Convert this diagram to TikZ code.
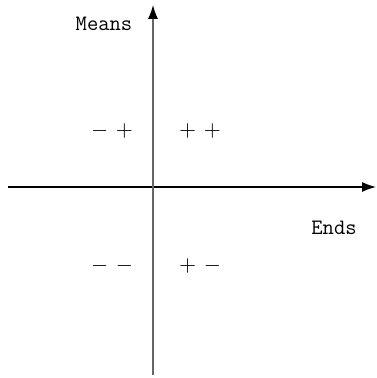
\documentclass[tikz,border=0pt]{standalone}
\usepackage{graphicx}
\usetikzlibrary{arrows.meta}
\tikzset{
  axislabel/.style={font=\ttfamily\fontsize{22}{26}\selectfont},
  signs/.style={font=\normalsize},
}
\newcommand{\sgn}[2]{\scalebox{2.2}{$#1$\hspace{3.5pt}$#2$}}
\begin{document}
\begin{tikzpicture}[x=1pt,y=1pt]
\useasboundingbox (0,0) rectangle (376,378);
\coordinate (xl) at (8,191);
\coordinate (xr) at (376,191);
\coordinate (yb) at (153,3);
\coordinate (yt) at (153,373);
\draw[line width=1.2pt,-{Latex[length=14pt,width=10pt]}] (xl) -- (xr);
\draw[line width=1.2pt,gray!80!black,-{Latex[length=14pt,width=10pt,color=black]}] (yb) -- (yt);
\node[axislabel] (means) at (104,354) {Means};
\node[axislabel] (ends) at (334,150) {Ends};
\node[signs] (mp) at (112,247) {\sgn{-}{+}};
\node[signs] (pp) at (200,247) {\sgn{+}{+}};
\node[signs] (mm) at (112,112) {\sgn{-}{-}};
\node[signs] (pm) at (200,112) {\sgn{+}{-}};
\end{tikzpicture}
\end{document}
